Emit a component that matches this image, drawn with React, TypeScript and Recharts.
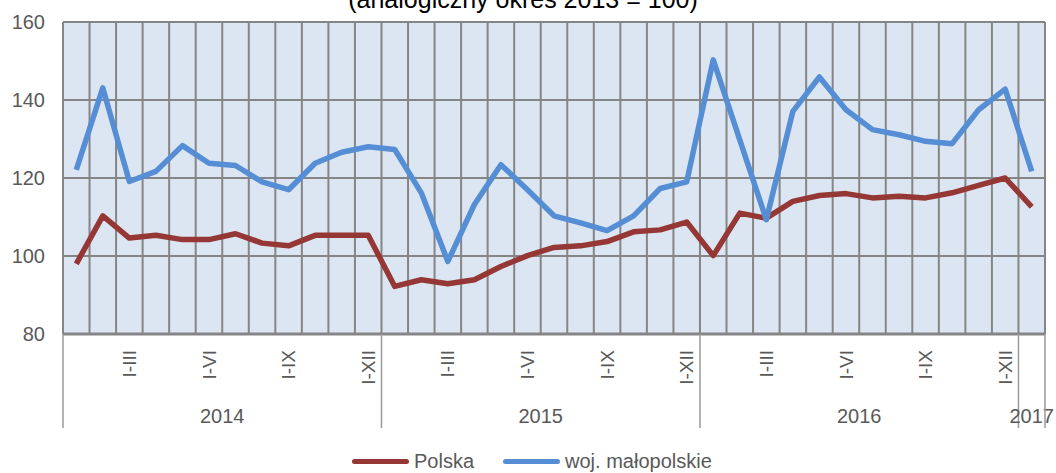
import React from "react";
import { LineChart, Line, XAxis, YAxis, CartesianGrid, Legend } from "recharts";

const W = 1056;
const H = 473;
const Y_AXIS_W = 63;
const MARGIN = { top: 22, right: 11, bottom: 0, left: 0 };
const FONT = "'Liberation Sans', Arial, sans-serif";

const periods = [
  "", "", "I-III", "", "", "I-VI", "", "", "I-IX", "", "", "I-XII",
  "", "", "I-III", "", "", "I-VI", "", "", "I-IX", "", "", "I-XII",
  "", "", "I-III", "", "", "I-VI", "", "", "I-IX", "", "", "I-XII",
  "",
];
const years = [
  "2014", "2014", "2014", "2014", "2014", "2014", "2014", "2014", "2014", "2014", "2014", "2014",
  "2015", "2015", "2015", "2015", "2015", "2015", "2015", "2015", "2015", "2015", "2015", "2015",
  "2016", "2016", "2016", "2016", "2016", "2016", "2016", "2016", "2016", "2016", "2016", "2016",
  "2017",
];
const polska = [
  98.0, 110.3, 104.6, 105.3, 104.2, 104.2, 105.7, 103.3, 102.6, 105.3, 105.3, 105.3,
  92.2, 93.9, 92.9, 93.9, 97.3, 100.1, 102.2, 102.6, 103.7, 106.2, 106.7, 108.7,
  100.1, 111.0, 109.7, 114.0, 115.5, 116.0, 114.9, 115.3, 114.9, 116.2, 118.1, 120.0,
  112.6,
];
const malopolskie = [
  122.1, 143.1, 119.1, 121.7, 128.3, 123.8, 123.2, 119.0, 117.0, 123.8, 126.6, 128.0,
  127.3, 116.2, 98.6, 113.2, 123.4, 117.0, 110.3, 108.5, 106.5, 110.3, 117.3, 119.0,
  150.3, 129.8, 109.3, 137.1, 145.9, 137.5, 132.4, 131.1, 129.4, 128.8, 137.5, 142.8,
  121.7,
];
const yTicks = [80, 100, 120, 140, 160];

const data = periods.map((p, i) => ({
  key: i,
  period: p,
  year: years[i],
  polska: polska[i],
  malopolskie: malopolskie[i],
}));

const PLOT_W = W - Y_AXIS_W - MARGIN.right;
const band = PLOT_W / data.length;

const LABEL = "#595959";

function PeriodTick({ x, y, index }: { x: number; y: number; index: number }) {
  const d = data[index];
  if (!d) return null;
  const first = index === 0 || data[index - 1].year !== d.year;
  const last = index === data.length - 1;
  const count = years.filter((yr) => yr === d.year).length;
  return (
    <g>
      {d.period && (
        <text
          x={x}
          y={y + 16}
          transform={`rotate(-90, ${x}, ${y + 16})`}
          textAnchor="end"
          dy="0.35em"
          fontSize={19}
          fill={LABEL}
          fontFamily={FONT}
        >
          {d.period}
        </text>
      )}
      {first && (
        <>
          <line x1={x - band / 2} x2={x - band / 2} y1={y} y2={y + 94} stroke="#9a9a9a" strokeWidth={1.5} />
          <text
            x={x + ((count - 1) * band) / 2}
            y={y + 89}
            textAnchor="middle"
            fontSize={20}
            fill={LABEL}
            fontFamily={FONT}
          >
            {d.year}
          </text>
        </>
      )}
      {last && (
        <line x1={x + band / 2} x2={x + band / 2} y1={y} y2={y + 94} stroke="#9a9a9a" strokeWidth={1.5} />
      )}
    </g>
  );
}

function LegendContent() {
  const items = [
    { name: "Polska", color: "#953735" },
    { name: "woj. małopolskie", color: "#558ED5" },
  ];
  return (
    <div style={{ display: "flex", alignItems: "center", paddingLeft: 352, fontFamily: FONT }}>
      {items.map((it, i) => (
        <div key={it.name} style={{ display: "flex", alignItems: "center", marginRight: i === 0 ? 29 : 0 }}>
          <span
            style={{ display: "inline-block", width: 57, height: 5, borderRadius: 3, background: it.color, marginRight: 5 }}
          />
          <span style={{ fontSize: 20, color: LABEL, lineHeight: "24px" }}>{it.name}</span>
        </div>
      ))}
    </div>
  );
}

export default function App() {
  return (
    <div style={{ position: "absolute", left: 0, top: 0, width: W, height: H, overflow: "hidden", background: "#fff" }}>
      <div
        style={{
          position: "absolute",
          top: -13,
          left: 0,
          width: 1046,
          textAlign: "center",
          fontFamily: FONT,
          fontSize: 25,
          lineHeight: "25px",
          color: "#000",
        }}
      >
        (analogiczny okres 2013 = 100)
      </div>
      <LineChart width={W} height={H} data={data} margin={MARGIN}>
        <CartesianGrid
          fill="#DCE6F2"
          stroke="#858585"
          strokeWidth={2}
          verticalCoordinatesGenerator={({ offset }: any) =>
            data.map((_, i) => offset.left + (i * offset.width) / data.length).concat(offset.left + offset.width)
          }
        />
        <XAxis
          dataKey="key"
          type="category"
          interval={0}
          height={139}
          padding={{ left: band / 2, right: band / 2 }}
          tickSize={0}
          tickMargin={0}
          axisLine={{ stroke: "#858585", strokeWidth: 3 }}
          tickLine={false}
          tick={(props: any) => <PeriodTick x={props.x} y={props.y} index={props.index} />}
        />
        <YAxis
          width={Y_AXIS_W}
          domain={[80, 160]}
          ticks={yTicks}
          axisLine={false}
          tickLine={false}
          tickSize={8}
          tickMargin={10}
          tick={{ fontSize: 20, fill: LABEL, fontFamily: FONT }}
        />
        <Line
          dataKey="polska"
          name="Polska"
          stroke="#953735"
          strokeWidth={5.5}
          dot={false}
          strokeLinejoin="round"
          isAnimationActive={false}
        />
        <Line
          dataKey="malopolskie"
          name="woj. małopolskie"
          stroke="#558ED5"
          strokeWidth={5.5}
          dot={false}
          strokeLinejoin="round"
          isAnimationActive={false}
        />
        <Legend
          verticalAlign="middle"
          align="center"
          layout="horizontal"
          wrapperStyle={{ top: 449, left: 0, width: W }}
          content={() => <LegendContent />}
        />
      </LineChart>
    </div>
  );
}
